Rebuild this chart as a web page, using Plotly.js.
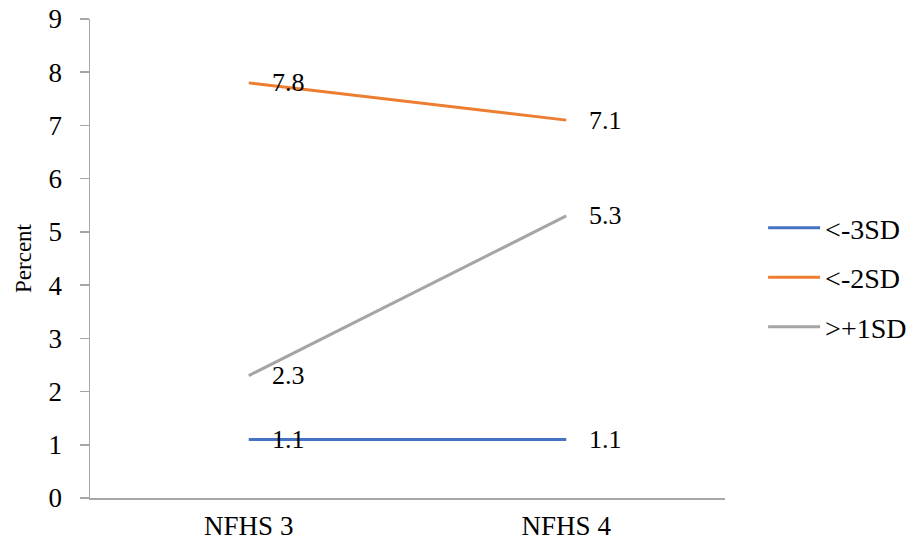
<!DOCTYPE html>
<html>
<head>
<meta charset="utf-8">
<script src="https://cdn.plot.ly/plotly-3.0.1.min.js"></script>
<style>html,body{margin:0;padding:0;background:#fff;}</style>
</head>
<body>
<div id="chart" style="width:914px;height:546px;"></div>
<script>
const categories = ["NFHS 3", "NFHS 4"];
const seriesNames = ["<-3SD", "<-2SD", ">+1SD"];
const sdMinus3 = [1.1, 1.1];
const sdMinus2 = [7.8, 7.1];
const sdPlus1 = [2.3, 5.3];
const seriesColors = ["#4472C4", "#ED7D31", "#A5A5A5"];
const yTicks = [0, 1, 2, 3, 4, 5, 6, 7, 8, 9];

const FONT = "Times New Roman, Times, Liberation Serif, Nimbus Roman, serif";
const allSeries = [sdMinus3, sdMinus2, sdPlus1];

const traces = allSeries.map((vals, i) => ({
  x: categories,
  y: vals,
  type: "scatter",
  mode: "lines",
  name: seriesNames[i],
  legendgroup: "g" + i,
  line: {color: seriesColors[i], width: 3},
  hoverinfo: "skip"
}));

const annotations = [];
allSeries.forEach((vals) => {
  vals.forEach((v, j) => {
    annotations.push({
      x: categories[j], y: v, xref: "x", yref: "y",
      text: v.toFixed(1), showarrow: false,
      xanchor: "left", yanchor: "middle", xshift: 21,
      font: {family: FONT, size: 26, color: "#000"}
    });
  });
});

const layout = {
  width: 914, height: 546,
  margin: {l: 90, r: 189, t: 19, b: 48, autoexpand: false},
  paper_bgcolor: "#fff", plot_bgcolor: "#fff",
  font: {family: FONT, size: 26, color: "#000"},
  showlegend: true,
  legend: {
    x: 1.06, y: 0.46, xanchor: "left", yanchor: "middle",
    traceorder: "grouped", tracegroupgap: 10, itemwidth: 52,
    font: {family: FONT, size: 28, color: "#000"},
    bgcolor: "rgba(0,0,0,0)"
  },
  xaxis: {
    type: "category", range: [-0.5, 1.5],
    showline: true, linecolor: "#A6A6A6", linewidth: 1.5,
    showgrid: false, zeroline: false, ticks: "",
    ticklabelstandoff: 3,
    tickfont: {family: FONT, size: 27, color: "#000"}
  },
  yaxis: {
    range: [0, 9], tickvals: yTicks, ticktext: yTicks.map(String),
    showline: true, linecolor: "#A6A6A6", linewidth: 1.5,
    ticks: "outside", ticklen: 9, tickcolor: "#A6A6A6", tickwidth: 1.5,
    ticklabelstandoff: 12,
    showgrid: false, zeroline: false,
    tickfont: {family: FONT, size: 27, color: "#000"},
    title: {text: "Percent", font: {family: FONT, size: 23, color: "#000"}, standoff: 10}
  },
  annotations: annotations
};

Plotly.newPlot("chart", traces, layout, {displayModeBar: false, staticPlot: true});
</script>
</body>
</html>
